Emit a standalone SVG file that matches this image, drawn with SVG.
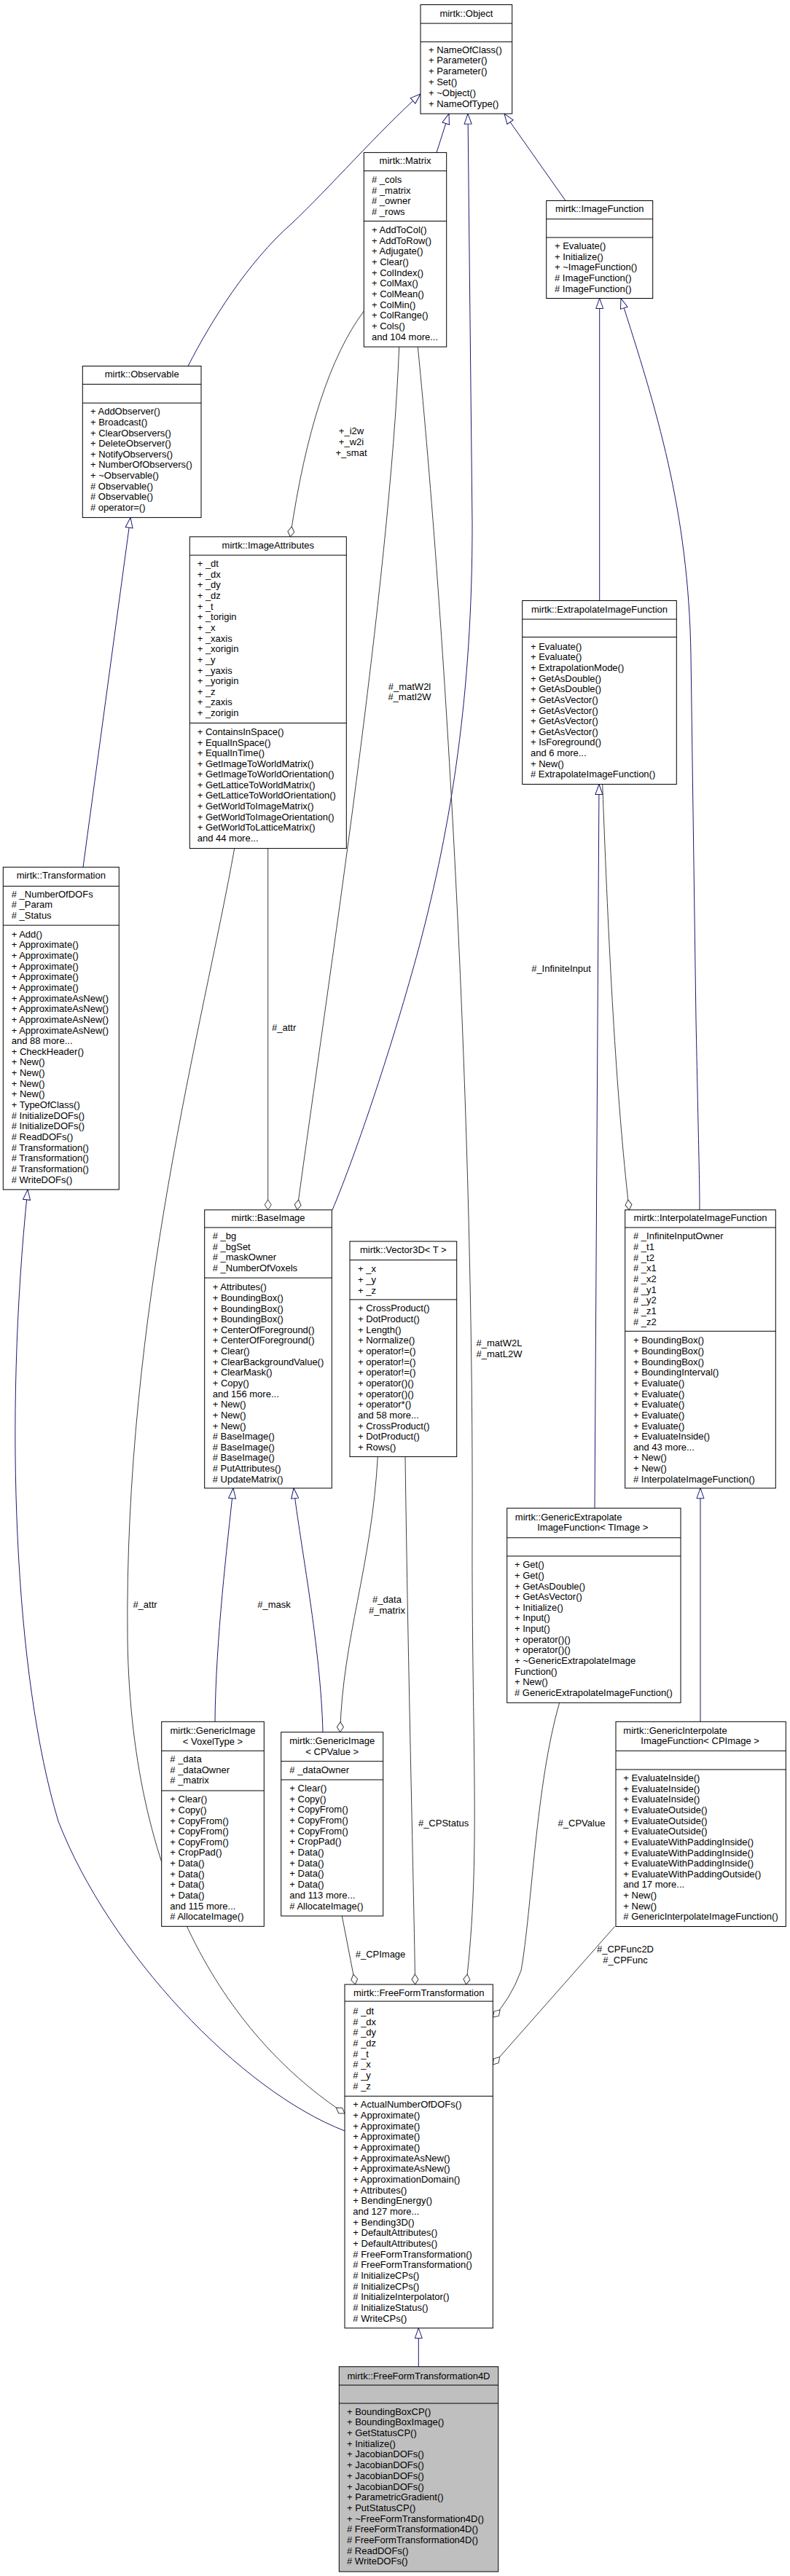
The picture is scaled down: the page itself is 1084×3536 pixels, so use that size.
<svg xmlns="http://www.w3.org/2000/svg" width="1084" height="3536" viewBox="0 0 1084 3536">
<style>
.box{fill:#fff;stroke:#000;stroke-width:1}
.gray{fill:#bfbfbf}
.sep{stroke:#000;stroke-width:1}
text{font-family:"Liberation Sans",Arial,Helvetica,sans-serif;font-size:13px;fill:#000}
.t{text-anchor:middle}
.inh{fill:none;stroke:#191970;stroke-width:1;marker-start:url(#inh)}
.agg{fill:none;stroke:#404040;stroke-width:1;marker-start:url(#agg)}
</style>
<defs>
<marker id="inh" viewBox="-1 0 16 14" markerWidth="16" markerHeight="14" refX="0" refY="7" orient="auto" markerUnits="userSpaceOnUse"><path d="M0,7 L14,2 L14,12 Z" fill="#fff" stroke="#191970" stroke-width="1"/></marker>
<marker id="agg" viewBox="-1 0 17 12" markerWidth="17" markerHeight="12" refX="0" refY="6" orient="auto" markerUnits="userSpaceOnUse"><path d="M0,6 L7,1.5 L14,6 L7,10.5 Z" fill="#fff" stroke="#404040" stroke-width="1"/></marker>
</defs>
<rect width="1084" height="3536" fill="#fff"/>

<g id="connectors">
<path class="inh" d="M577,129 C520,180 450,260 400,307 C340,360 290,440 258,502.5"/>
<path class="inh" d="M616,156.1 L599,209.4"/>
<path class="inh" d="M642,156.1 L648,720 C648,950 620,1130 575,1300 C540,1430 490,1580 456,1661"/>
<path class="inh" d="M692,156.1 L776,275.5"/>
<path class="inh" d="M179,710.4 L114,1190.3"/>
<path class="inh" d="M822.7,409.5 L822.7,824.5"/>
<path class="inh" d="M852,409.5 C900,560 945,700 948,900 L955,1400 C958,1550 960,1620 960,1660.8"/>
<path class="inh" d="M320,2042.8 C312,2120 296,2250 295,2363.3"/>
<path class="inh" d="M403,2042.8 C412,2120 440,2260 443,2377.7"/>
<path class="inh" d="M822,1076.5 L816,2070.2"/>
<path class="inh" d="M961,2042.8 L961,2363.3"/>
<path class="inh" d="M38,1632.9 C5,1950 20,2300 80,2500 C150,2680 330,2870 473,2925"/>
<path class="inh" d="M574.3,3195.7 L574.3,3248.7"/>

<path class="agg" d="M398.3,736.8 Q430,520 499.3,427"/>
<path class="agg" d="M407.7,1660.8 C450,1350 535,800 547.7,476.1"/>
<path class="agg" d="M367.7,1660.8 L367.7,1164.6"/>
<path class="agg" d="M473,2901 C320,2800 180,2600 175,2250 C170,1800 280,1400 321.7,1164.6"/>
<path class="agg" d="M466.7,2377.7 C470,2250 510,2150 518.3,1999.6"/>
<path class="agg" d="M569.6,2724 C568,2600 560,2300 556,1999.6"/>
<path class="agg" d="M639.6,2724 C660,2550 647,2400 648,2100 C650,1500 610,850 573.3,476.1"/>
<path class="agg" d="M487.5,2724 L469.3,2630"/>
<path class="agg" d="M676.3,2769 Q700,2745 715,2705 C730,2620 735,2450 767.7,2337.3"/>
<path class="agg" d="M676.3,2834 L843.5,2644.5"/>
<path class="agg" d="M863.3,1660.8 C845,1500 835,1300 826.7,1076.5"/>

<text class="t" x="482" y="595.5">+_i2w</text>
<text class="t" x="482" y="610.5">+_w2i</text>
<text class="t" x="482" y="625.5">+_smat</text>
<text class="t" x="562" y="946.5">#_matW2l</text>
<text class="t" x="562" y="960.7">#_matI2W</text>
<text x="373" y="1414.7">#_attr</text>
<text class="t" x="770" y="1334">#_InfiniteInput</text>
<text class="t" x="685" y="1848">#_matW2L</text>
<text class="t" x="685" y="1862.5">#_matL2W</text>
<text class="t" x="199" y="2206.7">#_attr</text>
<text class="t" x="376" y="2206.7">#_mask</text>
<text class="t" x="531" y="2199.8">#_data</text>
<text class="t" x="531" y="2214.5">#_matrix</text>
<text class="t" x="608.6" y="2507">#_CPStatus</text>
<text class="t" x="798" y="2507">#_CPValue</text>
<text class="t" x="522" y="2687">#_CPImage</text>
<text class="t" x="858" y="2679.8">#_CPFunc2D</text>
<text class="t" x="858" y="2694.5">#_CPFunc</text>
</g>

<g id="Object">
<rect class="box" x="577" y="6.5" width="125.7" height="149.6"/>
<line class="sep" x1="577" y1="32.1" x2="702.7" y2="32.1"/>
<line class="sep" x1="577" y1="57.4" x2="702.7" y2="57.4"/>
<text class="t" x="639.9" y="23">mirtk::Object</text>
<text><tspan x="588" y="72.5">+ NameOfClass()</tspan><tspan x="588" y="87.3">+ Parameter()</tspan><tspan x="588" y="102.1">+ Parameter()</tspan><tspan x="588" y="116.9">+ Set()</tspan><tspan x="588" y="131.7">+ ~Object()</tspan><tspan x="588" y="146.5">+ NameOfType()</tspan></text>
</g>

<g id="Matrix">
<rect class="box" x="499.3" y="209.4" width="113.4" height="266.7"/>
<line class="sep" x1="499.3" y1="234.6" x2="612.7" y2="234.6"/>
<line class="sep" x1="499.3" y1="303.5" x2="612.7" y2="303.5"/>
<text class="t" x="556" y="225">mirtk::Matrix</text>
<text><tspan x="510" y="251.1"># _cols</tspan><tspan x="510" y="265.6"># _matrix</tspan><tspan x="510" y="280.1"># _owner</tspan><tspan x="510" y="294.6"># _rows</tspan></text>
<text><tspan x="510" y="319.9">+ AddToCol()</tspan><tspan x="510" y="334.6">+ AddToRow()</tspan><tspan x="510" y="349.3">+ Adjugate()</tspan><tspan x="510" y="364">+ Clear()</tspan><tspan x="510" y="378.7">+ ColIndex()</tspan><tspan x="510" y="393.4">+ ColMax()</tspan><tspan x="510" y="408">+ ColMean()</tspan><tspan x="510" y="422.7">+ ColMin()</tspan><tspan x="510" y="437.4">+ ColRange()</tspan><tspan x="510" y="452.1">+ Cols()</tspan><tspan x="510" y="466.8">and 104 more...</tspan></text>
</g>

<g id="ImageFunction">
<rect class="box" x="749.7" y="275.5" width="146" height="134"/>
<line class="sep" x1="749.7" y1="300.7" x2="895.7" y2="300.7"/>
<line class="sep" x1="749.7" y1="326" x2="895.7" y2="326"/>
<text class="t" x="822.7" y="291">mirtk::ImageFunction</text>
<text><tspan x="761" y="342">+ Evaluate()</tspan><tspan x="761" y="356.7">+ Initialize()</tspan><tspan x="761" y="371.4">+ ~ImageFunction()</tspan><tspan x="761" y="386.1"># ImageFunction()</tspan><tspan x="761" y="400.8"># ImageFunction()</tspan></text>
</g>

<g id="Observable">
<rect class="box" x="113.3" y="502.5" width="162.7" height="207.9"/>
<line class="sep" x1="113.3" y1="527.4" x2="276" y2="527.4"/>
<line class="sep" x1="113.3" y1="553.2" x2="276" y2="553.2"/>
<text class="t" x="194.7" y="518.4">mirtk::Observable</text>
<text><tspan x="124" y="569.2">+ AddObserver()</tspan><tspan x="124" y="583.8">+ Broadcast()</tspan><tspan x="124" y="598.5">+ ClearObservers()</tspan><tspan x="124" y="613.1">+ DeleteObserver()</tspan><tspan x="124" y="627.8">+ NotifyObservers()</tspan><tspan x="124" y="642.4">+ NumberOfObservers()</tspan><tspan x="124" y="657">+ ~Observable()</tspan><tspan x="124" y="671.7"># Observable()</tspan><tspan x="124" y="686.3"># Observable()</tspan><tspan x="124" y="701"># operator=()</tspan></text>
</g>

<g id="ImageAttributes">
<rect class="box" x="260.3" y="736.8" width="215" height="427.8"/>
<line class="sep" x1="260.3" y1="762.1" x2="475.3" y2="762.1"/>
<line class="sep" x1="260.3" y1="992.5" x2="475.3" y2="992.5"/>
<text class="t" x="367.8" y="752.7">mirtk::ImageAttributes</text>
<text><tspan x="270.7" y="778.1">+ _dt</tspan><tspan x="270.7" y="792.7">+ _dx</tspan><tspan x="270.7" y="807.4">+ _dy</tspan><tspan x="270.7" y="822">+ _dz</tspan><tspan x="270.7" y="836.7">+ _t</tspan><tspan x="270.7" y="851.3">+ _torigin</tspan><tspan x="270.7" y="865.9">+ _x</tspan><tspan x="270.7" y="880.6">+ _xaxis</tspan><tspan x="270.7" y="895.2">+ _xorigin</tspan><tspan x="270.7" y="909.9">+ _y</tspan><tspan x="270.7" y="924.5">+ _yaxis</tspan><tspan x="270.7" y="939.1">+ _yorigin</tspan><tspan x="270.7" y="953.8">+ _z</tspan><tspan x="270.7" y="968.4">+ _zaxis</tspan><tspan x="270.7" y="983.1">+ _zorigin</tspan></text>
<text><tspan x="270.7" y="1008.9">+ ContainsInSpace()</tspan><tspan x="270.7" y="1023.5">+ EqualInSpace()</tspan><tspan x="270.7" y="1038.1">+ EqualInTime()</tspan><tspan x="270.7" y="1052.6">+ GetImageToWorldMatrix()</tspan><tspan x="270.7" y="1067.2">+ GetImageToWorldOrientation()</tspan><tspan x="270.7" y="1081.8">+ GetLatticeToWorldMatrix()</tspan><tspan x="270.7" y="1096.4">+ GetLatticeToWorldOrientation()</tspan><tspan x="270.7" y="1111">+ GetWorldToImageMatrix()</tspan><tspan x="270.7" y="1125.5">+ GetWorldToImageOrientation()</tspan><tspan x="270.7" y="1140.1">+ GetWorldToLatticeMatrix()</tspan><tspan x="270.7" y="1154.7">and 44 more...</tspan></text>
</g>

<g id="ExtrapolateImageFunction">
<rect class="box" x="716.7" y="824.5" width="211.6" height="252"/>
<line class="sep" x1="716.7" y1="850" x2="928.3" y2="850"/>
<line class="sep" x1="716.7" y1="874.5" x2="928.3" y2="874.5"/>
<text class="t" x="822.5" y="841.2">mirtk::ExtrapolateImageFunction</text>
<text><tspan x="728" y="891.8">+ Evaluate()</tspan><tspan x="728" y="906.4">+ Evaluate()</tspan><tspan x="728" y="921">+ ExtrapolationMode()</tspan><tspan x="728" y="935.7">+ GetAsDouble()</tspan><tspan x="728" y="950.3">+ GetAsDouble()</tspan><tspan x="728" y="964.9">+ GetAsVector()</tspan><tspan x="728" y="979.5">+ GetAsVector()</tspan><tspan x="728" y="994.1">+ GetAsVector()</tspan><tspan x="728" y="1008.8">+ GetAsVector()</tspan><tspan x="728" y="1023.4">+ IsForeground()</tspan><tspan x="728" y="1038">and 6 more...</tspan><tspan x="728" y="1052.6">+ New()</tspan><tspan x="728" y="1067.2"># ExtrapolateImageFunction()</tspan></text>
</g>

<g id="Transformation">
<rect class="box" x="4.3" y="1190.3" width="159" height="442.6"/>
<line class="sep" x1="4.3" y1="1216.4" x2="163.3" y2="1216.4"/>
<line class="sep" x1="4.3" y1="1270.1" x2="163.3" y2="1270.1"/>
<text class="t" x="83.8" y="1206.2">mirtk::Transformation</text>
<text><tspan x="15.7" y="1231.5"># _NumberOfDOFs</tspan><tspan x="15.7" y="1246.2"># _Param</tspan><tspan x="15.7" y="1260.9"># _Status</tspan></text>
<text><tspan x="15.7" y="1286.6">+ Add()</tspan><tspan x="15.7" y="1301.3">+ Approximate()</tspan><tspan x="15.7" y="1315.9">+ Approximate()</tspan><tspan x="15.7" y="1330.6">+ Approximate()</tspan><tspan x="15.7" y="1345.2">+ Approximate()</tspan><tspan x="15.7" y="1359.9">+ Approximate()</tspan><tspan x="15.7" y="1374.5">+ ApproximateAsNew()</tspan><tspan x="15.7" y="1389.2">+ ApproximateAsNew()</tspan><tspan x="15.7" y="1403.8">+ ApproximateAsNew()</tspan><tspan x="15.7" y="1418.5">+ ApproximateAsNew()</tspan><tspan x="15.7" y="1433.1">and 88 more...</tspan><tspan x="15.7" y="1447.8">+ CheckHeader()</tspan><tspan x="15.7" y="1462.4">+ New()</tspan><tspan x="15.7" y="1477.1">+ New()</tspan><tspan x="15.7" y="1491.7">+ New()</tspan><tspan x="15.7" y="1506.4">+ New()</tspan><tspan x="15.7" y="1521">+ TypeOfClass()</tspan><tspan x="15.7" y="1535.7"># InitializeDOFs()</tspan><tspan x="15.7" y="1550.3"># InitializeDOFs()</tspan><tspan x="15.7" y="1565"># ReadDOFs()</tspan><tspan x="15.7" y="1579.6"># Transformation()</tspan><tspan x="15.7" y="1594.3"># Transformation()</tspan><tspan x="15.7" y="1608.9"># Transformation()</tspan><tspan x="15.7" y="1623.6"># WriteDOFs()</tspan></text>
</g>

<g id="BaseImage">
<rect class="box" x="280.7" y="1660.8" width="174.6" height="382"/>
<line class="sep" x1="280.7" y1="1685" x2="455.3" y2="1685"/>
<line class="sep" x1="280.7" y1="1754.1" x2="455.3" y2="1754.1"/>
<text class="t" x="368" y="1675.8">mirtk::BaseImage</text>
<text><tspan x="291.7" y="1701.4"># _bg</tspan><tspan x="291.7" y="1715.9"># _bgSet</tspan><tspan x="291.7" y="1730.4"># _maskOwner</tspan><tspan x="291.7" y="1744.9"># _NumberOfVoxels</tspan></text>
<text><tspan x="291.7" y="1771.2">+ Attributes()</tspan><tspan x="291.7" y="1785.8">+ BoundingBox()</tspan><tspan x="291.7" y="1800.5">+ BoundingBox()</tspan><tspan x="291.7" y="1815.1">+ BoundingBox()</tspan><tspan x="291.7" y="1829.8">+ CenterOfForeground()</tspan><tspan x="291.7" y="1844.4">+ CenterOfForeground()</tspan><tspan x="291.7" y="1859">+ Clear()</tspan><tspan x="291.7" y="1873.7">+ ClearBackgroundValue()</tspan><tspan x="291.7" y="1888.3">+ ClearMask()</tspan><tspan x="291.7" y="1903">+ Copy()</tspan><tspan x="291.7" y="1917.6">and 156 more...</tspan><tspan x="291.7" y="1932.2">+ New()</tspan><tspan x="291.7" y="1946.9">+ New()</tspan><tspan x="291.7" y="1961.5">+ New()</tspan><tspan x="291.7" y="1976.2"># BaseImage()</tspan><tspan x="291.7" y="1990.8"># BaseImage()</tspan><tspan x="291.7" y="2005.4"># BaseImage()</tspan><tspan x="291.7" y="2020.1"># PutAttributes()</tspan><tspan x="291.7" y="2034.7"># UpdateMatrix()</tspan></text>
</g>

<g id="Vector3D">
<rect class="box" x="480" y="1704" width="146.7" height="295.6"/>
<line class="sep" x1="480" y1="1729.6" x2="626.7" y2="1729.6"/>
<line class="sep" x1="480" y1="1783.9" x2="626.7" y2="1783.9"/>
<text class="t" x="553.3" y="1720">mirtk::Vector3D&lt; T &gt;</text>
<text><tspan x="491" y="1745.6">+ _x</tspan><tspan x="491" y="1760.6">+ _y</tspan><tspan x="491" y="1775.6">+ _z</tspan></text>
<text><tspan x="491" y="1800.4">+ CrossProduct()</tspan><tspan x="491" y="1815">+ DotProduct()</tspan><tspan x="491" y="1829.7">+ Length()</tspan><tspan x="491" y="1844.3">+ Normalize()</tspan><tspan x="491" y="1859">+ operator!=()</tspan><tspan x="491" y="1873.6">+ operator!=()</tspan><tspan x="491" y="1888.3">+ operator!=()</tspan><tspan x="491" y="1902.9">+ operator()()</tspan><tspan x="491" y="1917.6">+ operator()()</tspan><tspan x="491" y="1932.2">+ operator*()</tspan><tspan x="491" y="1946.9">and 58 more...</tspan><tspan x="491" y="1961.5">+ CrossProduct()</tspan><tspan x="491" y="1976.2">+ DotProduct()</tspan><tspan x="491" y="1990.8">+ Rows()</tspan></text>
</g>

<g id="InterpolateImageFunction">
<rect class="box" x="857.7" y="1660.8" width="206.6" height="382"/>
<line class="sep" x1="857.7" y1="1685" x2="1064.3" y2="1685"/>
<line class="sep" x1="857.7" y1="1827.3" x2="1064.3" y2="1827.3"/>
<text class="t" x="961" y="1676">mirtk::InterpolateImageFunction</text>
<text><tspan x="869" y="1701.4"># _InfiniteInputOwner</tspan><tspan x="869" y="1716"># _t1</tspan><tspan x="869" y="1730.7"># _t2</tspan><tspan x="869" y="1745.3"># _x1</tspan><tspan x="869" y="1760"># _x2</tspan><tspan x="869" y="1774.6"># _y1</tspan><tspan x="869" y="1789.2"># _y2</tspan><tspan x="869" y="1803.9"># _z1</tspan><tspan x="869" y="1818.5"># _z2</tspan></text>
<text><tspan x="869" y="1844.4">+ BoundingBox()</tspan><tspan x="869" y="1859">+ BoundingBox()</tspan><tspan x="869" y="1873.7">+ BoundingBox()</tspan><tspan x="869" y="1888.3">+ BoundingInterval()</tspan><tspan x="869" y="1903">+ Evaluate()</tspan><tspan x="869" y="1917.6">+ Evaluate()</tspan><tspan x="869" y="1932.2">+ Evaluate()</tspan><tspan x="869" y="1946.9">+ Evaluate()</tspan><tspan x="869" y="1961.5">+ Evaluate()</tspan><tspan x="869" y="1976.2">+ EvaluateInside()</tspan><tspan x="869" y="1990.8">and 43 more...</tspan><tspan x="869" y="2005.4">+ New()</tspan><tspan x="869" y="2020.1">+ New()</tspan><tspan x="869" y="2034.7"># InterpolateImageFunction()</tspan></text>
</g>

<g id="GenericExtrapolateImageFunction">
<rect class="box" x="695.7" y="2070.2" width="238.3" height="267.1"/>
<line class="sep" x1="695.7" y1="2110.8" x2="934" y2="2110.8"/>
<line class="sep" x1="695.7" y1="2136" x2="934" y2="2136"/>
<text><tspan x="706.8" y="2086.8">mirtk::GenericExtrapolate</tspan><tspan x="737.2" y="2101">ImageFunction&lt; TImage &gt;</tspan></text>
<text><tspan x="706" y="2152.2">+ Get()</tspan><tspan x="706" y="2166.8">+ Get()</tspan><tspan x="706" y="2181.5">+ GetAsDouble()</tspan><tspan x="706" y="2196.1">+ GetAsVector()</tspan><tspan x="706" y="2210.7">+ Initialize()</tspan><tspan x="706" y="2225.4">+ Input()</tspan><tspan x="706" y="2240">+ Input()</tspan><tspan x="706" y="2254.6">+ operator()()</tspan><tspan x="706" y="2269.2">+ operator()()</tspan><tspan x="706" y="2283.9">+ ~GenericExtrapolateImage</tspan><tspan x="706" y="2298.5">Function()</tspan><tspan x="706" y="2313.1">+ New()</tspan><tspan x="706" y="2327.8"># GenericExtrapolateImageFunction()</tspan></text>
</g>

<g id="GenericInterpolateImageFunction">
<rect class="box" x="845" y="2363.3" width="233.3" height="281.2"/>
<line class="sep" x1="845" y1="2403.3" x2="1078.3" y2="2403.3"/>
<line class="sep" x1="845" y1="2429" x2="1078.3" y2="2429"/>
<text><tspan x="855.3" y="2379.5">mirtk::GenericInterpolate</tspan><tspan x="879.3" y="2393.8">ImageFunction&lt; CPImage &gt;</tspan></text>
<text><tspan x="855.3" y="2445.2">+ EvaluateInside()</tspan><tspan x="855.3" y="2459.8">+ EvaluateInside()</tspan><tspan x="855.3" y="2474.4">+ EvaluateInside()</tspan><tspan x="855.3" y="2489.1">+ EvaluateOutside()</tspan><tspan x="855.3" y="2503.7">+ EvaluateOutside()</tspan><tspan x="855.3" y="2518.3">+ EvaluateOutside()</tspan><tspan x="855.3" y="2532.9">+ EvaluateWithPaddingInside()</tspan><tspan x="855.3" y="2547.5">+ EvaluateWithPaddingInside()</tspan><tspan x="855.3" y="2562.2">+ EvaluateWithPaddingInside()</tspan><tspan x="855.3" y="2576.8">+ EvaluateWithPaddingOutside()</tspan><tspan x="855.3" y="2591.4">and 17 more...</tspan><tspan x="855.3" y="2606">+ New()</tspan><tspan x="855.3" y="2620.6">+ New()</tspan><tspan x="855.3" y="2635.3"># GenericInterpolateImageFunction()</tspan></text>
</g>

<g id="GenericImageVoxelType">
<rect class="box" x="221.7" y="2363.3" width="140.6" height="281"/>
<line class="sep" x1="221.7" y1="2403.3" x2="362.3" y2="2403.3"/>
<line class="sep" x1="221.7" y1="2458" x2="362.3" y2="2458"/>
<text class="t"><tspan x="292" y="2379.5">mirtk::GenericImage</tspan><tspan x="292" y="2394.5">&lt; VoxelType &gt;</tspan></text>
<text><tspan x="233.3" y="2418.8"># _data</tspan><tspan x="233.3" y="2433.5"># _dataOwner</tspan><tspan x="233.3" y="2448.2"># _matrix</tspan></text>
<text><tspan x="233.3" y="2474.2">+ Clear()</tspan><tspan x="233.3" y="2488.8">+ Copy()</tspan><tspan x="233.3" y="2503.5">+ CopyFrom()</tspan><tspan x="233.3" y="2518.1">+ CopyFrom()</tspan><tspan x="233.3" y="2532.8">+ CopyFrom()</tspan><tspan x="233.3" y="2547.4">+ CropPad()</tspan><tspan x="233.3" y="2562">+ Data()</tspan><tspan x="233.3" y="2576.7">+ Data()</tspan><tspan x="233.3" y="2591.3">+ Data()</tspan><tspan x="233.3" y="2606">+ Data()</tspan><tspan x="233.3" y="2620.6">and 115 more...</tspan><tspan x="233.3" y="2635.2"># AllocateImage()</tspan></text>
</g>

<g id="GenericImageCPValue">
<rect class="box" x="385.7" y="2377.7" width="140" height="252.3"/>
<line class="sep" x1="385.7" y1="2417.7" x2="525.7" y2="2417.7"/>
<line class="sep" x1="385.7" y1="2443" x2="525.7" y2="2443"/>
<text class="t"><tspan x="455.7" y="2393.8">mirtk::GenericImage</tspan><tspan x="455.7" y="2408.8">&lt; CPValue &gt;</tspan></text>
<text><tspan x="397.3" y="2434.2"># _dataOwner</tspan></text>
<text><tspan x="397.3" y="2458.8">+ Clear()</tspan><tspan x="397.3" y="2473.5">+ Copy()</tspan><tspan x="397.3" y="2488.2">+ CopyFrom()</tspan><tspan x="397.3" y="2502.9">+ CopyFrom()</tspan><tspan x="397.3" y="2517.6">+ CopyFrom()</tspan><tspan x="397.3" y="2532.3">+ CropPad()</tspan><tspan x="397.3" y="2547">+ Data()</tspan><tspan x="397.3" y="2561.7">+ Data()</tspan><tspan x="397.3" y="2576.4">+ Data()</tspan><tspan x="397.3" y="2591.1">+ Data()</tspan><tspan x="397.3" y="2605.8">and 113 more...</tspan><tspan x="397.3" y="2620.5"># AllocateImage()</tspan></text>
</g>

<g id="FreeFormTransformation">
<rect class="box" x="473" y="2724" width="203.3" height="471.7"/>
<line class="sep" x1="473" y1="2747.1" x2="676.3" y2="2747.1"/>
<line class="sep" x1="473" y1="2877.3" x2="676.3" y2="2877.3"/>
<text class="t" x="574.7" y="2740">mirtk::FreeFormTransformation</text>
<text><tspan x="484.3" y="2764.8"># _dt</tspan><tspan x="484.3" y="2779.5"># _dx</tspan><tspan x="484.3" y="2794.2"># _dy</tspan><tspan x="484.3" y="2808.9"># _dz</tspan><tspan x="484.3" y="2823.6"># _t</tspan><tspan x="484.3" y="2838.3"># _x</tspan><tspan x="484.3" y="2853"># _y</tspan><tspan x="484.3" y="2867.7"># _z</tspan></text>
<text><tspan x="484.3" y="2893.2">+ ActualNumberOfDOFs()</tspan><tspan x="484.3" y="2907.9">+ Approximate()</tspan><tspan x="484.3" y="2922.6">+ Approximate()</tspan><tspan x="484.3" y="2937.2">+ Approximate()</tspan><tspan x="484.3" y="2951.9">+ Approximate()</tspan><tspan x="484.3" y="2966.6">+ ApproximateAsNew()</tspan><tspan x="484.3" y="2981.3">+ ApproximateAsNew()</tspan><tspan x="484.3" y="2996">+ ApproximationDomain()</tspan><tspan x="484.3" y="3010.6">+ Attributes()</tspan><tspan x="484.3" y="3025.3">+ BendingEnergy()</tspan><tspan x="484.3" y="3040">and 127 more...</tspan><tspan x="484.3" y="3054.7">+ Bending3D()</tspan><tspan x="484.3" y="3069.4">+ DefaultAttributes()</tspan><tspan x="484.3" y="3084">+ DefaultAttributes()</tspan><tspan x="484.3" y="3098.7"># FreeFormTransformation()</tspan><tspan x="484.3" y="3113.4"># FreeFormTransformation()</tspan><tspan x="484.3" y="3128.1"># InitializeCPs()</tspan><tspan x="484.3" y="3142.8"># InitializeCPs()</tspan><tspan x="484.3" y="3157.4"># InitializeInterpolator()</tspan><tspan x="484.3" y="3172.1"># InitializeStatus()</tspan><tspan x="484.3" y="3186.8"># WriteCPs()</tspan></text>
</g>

<g id="FreeFormTransformation4D">
<rect class="box gray" x="465.3" y="3248.7" width="218.4" height="281.3"/>
<line class="sep" x1="465.3" y1="3274" x2="683.7" y2="3274"/>
<line class="sep" x1="465.3" y1="3299" x2="683.7" y2="3299"/>
<text class="t" x="574.5" y="3265.5">mirtk::FreeFormTransformation4D</text>
<text><tspan x="476" y="3314.5">+ BoundingBoxCP()</tspan><tspan x="476" y="3329.2">+ BoundingBoxImage()</tspan><tspan x="476" y="3343.9">+ GetStatusCP()</tspan><tspan x="476" y="3358.6">+ Initialize()</tspan><tspan x="476" y="3373.3">+ JacobianDOFs()</tspan><tspan x="476" y="3388.1">+ JacobianDOFs()</tspan><tspan x="476" y="3402.8">+ JacobianDOFs()</tspan><tspan x="476" y="3417.5">+ JacobianDOFs()</tspan><tspan x="476" y="3432.2">+ ParametricGradient()</tspan><tspan x="476" y="3446.9">+ PutStatusCP()</tspan><tspan x="476" y="3461.6">+ ~FreeFormTransformation4D()</tspan><tspan x="476" y="3476.3"># FreeFormTransformation4D()</tspan><tspan x="476" y="3491"># FreeFormTransformation4D()</tspan><tspan x="476" y="3505.7"># ReadDOFs()</tspan><tspan x="476" y="3520.4"># WriteDOFs()</tspan></text>
</g>
</svg>
